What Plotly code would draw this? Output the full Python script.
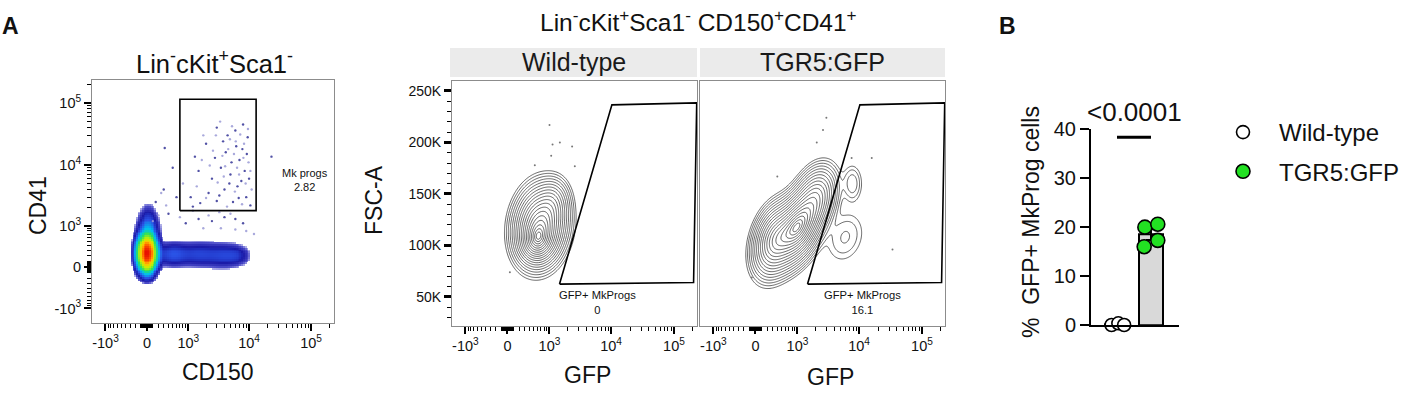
import numpy as np
import plotly.graph_objects as go

W, H = 1407, 409
FONT = "Liberation Sans, Arial, sans-serif"
COF = 450.0  # biexponential (arcsinh) cofactor used for the flow axes


def bx(v):
    return np.arcsinh(np.asarray(v, dtype=float) / COF)


def px(x):
    return x / W


def py(y):
    return 1 - y / H


# ---------------- Panel A left: Lin-cKit+Sca1- pseudocolor (CD150 vs CD41) -------------
lk_comp_cd150 = [0, 20, 500, 1500, 3800, 6500]
lk_comp_cd41 = [240, 800, 220, 220, 200, 200]
lk_comp_sd_u = [0.19, 0.21, 0.38, 0.42, 0.42, 0.28]
lk_comp_sd_v = [0.36, 0.46, 0.25, 0.26, 0.26, 0.21]
lk_comp_peak = [1.0, 0.06, 0.04, 0.03, 0.03, 0.017]

lk_event_cd150 = [1300, 2000, 3000, 4500, 6000, 8000, 9500, 7000, 3500, 2500, 5000, 8500,
                  6500, 4000, 2200, 1100, 1600, 3000, 5500, 9000, 10500, 1200, 7500, 4200,
                  6200, 9200, 1500, 3800, 5200, 7800, 2800, 10000, 4800, 6800, 3300,
                  320, 500, 300, 600, 150, 1500, 2500, 4000, 6000, 8000, 900, 400, 23000]
lk_event_cd41 = [13600, 22000, 40000, 30000, 36000, 45000, 28000, 12000, 9000, 6000, 7000, 8000,
                 4500, 4000, 3500, 3000, 2400, 2600, 2500, 3000, 2200, 2100, 5500, 16000,
                 20000, 15000, 8000, 24000, 11000, 18000, 13000, 6000, 5000, 2900, 3200,
                 18700, 9000, 4000, 3000, 2500, 1300, 1200, 1400, 1300, 1100, 1100, 1600, 13600]
lk_light_cd150 = [1800, 2600, 3400, 4100, 4900, 5700, 6400, 7200, 8300, 9800, 11000, 3100,
                  2300, 1400, 5900, 7700, 8800, 4400, 2000, 3700, 5300, 6900, 9600, 2900,
                  4600, 8100, 10500, 1700, 6100, 3900,
                  200, 700, 1200, 350, 2200, 3300, 5000, 250, 800, 100, 1800, 3500, 6000,
                  9000, 12000]
lk_light_cd41 = [30000, 17000, 50000, 9500, 26000, 15000, 9000, 31000, 22000, 11000, 4000, 5200,
                 9800, 4500, 3700, 2300, 5000, 2100, 2900, 14000, 42000, 7000, 38000, 30000,
                 18000, 13000, 8000, 12000, 24000, 6500,
                 1500, 1400, 1800, 2200, 1500, 1700, 1600, 3500, 5000, 1200, 900, 900, 850,
                 800, 700]

mk_gate_cd150 = [700, 13000]
mk_gate_cd41 = [1800, 115000]
mk_gate_label = "Mk progs<br>2.82"
mk_label_pos = (80000, 5700)

# ---------------- Panel A right: CD150+CD41+ contour (GFP vs FSC-A) ----------------------
wt_comp_gfp = [680, 600, 1100]
wt_comp_fsc = [119000, 104000, 140000]
wt_comp_sd_u = [0.41, 0.30, 0.28]
wt_comp_sd_f = [16500, 9500, 11000]
wt_comp_rho = [0.12, 0.05, 0.10]
wt_comp_peak = [1.0, 0.6, 0.15]

tg_comp_gfp = [1000, 350, 2000, 7800, 6000]
tg_comp_fsc = [118000, 105000, 146000, 160000, 108000]
tg_comp_sd_u = [0.44, 0.35, 0.34, 0.20, 0.40]
tg_comp_sd_f = [16500, 15000, 13500, 10000, 14000]
tg_comp_rho = [0.50, 0.30, 0.30, 0.0, 0.20]
tg_comp_peak = [1.0, 0.5, 0.3, 0.02, 0.015]

wt_event_gfp = [1000, 1130, 1500, 2380, 530, 1070, 40, 2630]
wt_event_fsc = [217000, 198000, 200000, 196000, 178000, 187000, 74000, 177000]
tg_event_gfp = [3000, 2650, 2100, 7600, 15900, 400, -60, 34000]
tg_event_fsc = [224000, 212000, 200000, 185000, 185000, 167000, 69000, 96000]

gfp_gate_gfp = [1480, 10300, 230000, 205000]
gfp_gate_fsc = [62500, 236500, 238500, 64000]
gfp_gate_labels = ["GFP+ MkProgs<br>0", "GFP+ MkProgs<br>16.1"]
gfp_label_gfp = [6000, 11500]
gfp_label_fsc = 44500

# flow axis ticks
bi_major = [-1000, 0, 1000, 10000, 100000]
bi_major_text = ["-10<sup>3</sup>", "0", "10<sup>3</sup>", "10<sup>4</sup>", "10<sup>5</sup>"]
bi_minor = ([-v for v in range(100, 1000, 100)] + [-v for v in range(10, 100, 10)]
            + list(range(10, 100, 10)) + list(range(100, 1000, 100))
            + list(range(2000, 10000, 1000)) + list(range(20000, 100000, 10000)) + [200000])
fsc_major = [50000, 100000, 150000, 200000, 250000]
fsc_major_text = ["50K", "100K", "150K", "200K", "250K"]

# ---------------- Panel B: bar chart --------------------------------------------------
groups = ["Wild-type", "TGR5:GFP"]
wt_values = [0.0, 0.35, 0.0]
tgr5_values = [20.0, 20.6, 17.3, 16.0]
wt_jitter = [-0.16, 0.04, 0.21]
tgr5_jitter = [-0.18, 0.20, 0.20, -0.20]
p_value_text = "<0.0001"
b_yticks = [0, 10, 20, 30, 40]

# ======================================================================================
fig = go.Figure()

# ---- pseudocolor density (heatmap of a density built from the read components) ----
X1_RANGE = [-2.04, 6.95]
Y1_RANGE = [-2.08, 6.95]
gu = np.linspace(X1_RANGE[0], X1_RANGE[1], 135)
gv = np.linspace(Y1_RANGE[0], Y1_RANGE[1], 135)
UU, VV = np.meshgrid(gu, gv)
dens = np.zeros_like(UU)
for cx, cy, su, sv, pk in zip(lk_comp_cd150, lk_comp_cd41, lk_comp_sd_u, lk_comp_sd_v, lk_comp_peak):
    dens += pk * np.exp(-0.5 * (((UU - bx(cx)) / su) ** 2 + ((VV - bx(cy)) / sv) ** 2))
logd = np.log10(np.maximum(dens, 1e-12))
LOWEST = -2.3
logd[logd < LOWEST] = np.nan
pseudo_scale = [
    [0.0, "#b0b0e8"], [0.10, "#4a4ac8"], [0.25, "#1a1aa8"], [0.40, "#2a52e6"],
    [0.55, "#00c0f0"], [0.68, "#28e060"], [0.80, "#c8f000"], [0.88, "#ffc000"],
    [0.94, "#ff6000"], [1.0, "#e81000"],
]
fig.add_trace(go.Heatmap(x=gu, y=gv, z=logd, zmin=LOWEST, zmax=0, colorscale=pseudo_scale,
                         showscale=False, hoverinfo="skip", xaxis="x", yaxis="y"))
fig.add_trace(go.Scatter(x=bx(lk_light_cd150), y=bx(lk_light_cd41), mode="markers",
                         marker=dict(size=2.4, color="#9a9ad6", opacity=0.85),
                         showlegend=False, hoverinfo="skip", xaxis="x", yaxis="y"))
fig.add_trace(go.Scatter(x=bx(lk_event_cd150), y=bx(lk_event_cd41), mode="markers",
                         marker=dict(size=2.4, color="#26268f", opacity=0.8),
                         showlegend=False, hoverinfo="skip", xaxis="x", yaxis="y"))
gx = bx([mk_gate_cd150[0], mk_gate_cd150[1], mk_gate_cd150[1], mk_gate_cd150[0], mk_gate_cd150[0]])
gy = bx([mk_gate_cd41[0], mk_gate_cd41[0], mk_gate_cd41[1], mk_gate_cd41[1], mk_gate_cd41[0]])
fig.add_trace(go.Scatter(x=gx, y=gy, mode="lines", line=dict(color="black", width=1.6),
                         showlegend=False, hoverinfo="skip", xaxis="x", yaxis="y"))

# ---- contour panels ----
X2_RANGE = [-2.03, 6.94]
Y2_RANGE = [21800, 259700]
cu = np.linspace(X2_RANGE[0], X2_RANGE[1], 260)
cf = np.linspace(Y2_RANGE[0], Y2_RANGE[1], 260)
CU, CF = np.meshgrid(cu, cf)


def mixture(gfp, fsc, sdu, sdf, rho, peak):
    d = np.zeros_like(CU)
    for g, f, su, sf, r, pk in zip(gfp, fsc, sdu, sdf, rho, peak):
        a = (CU - bx(g)) / su
        b = (CF - f) / sf
        q = (a * a - 2 * r * a * b + b * b) / (1 - r * r)
        d += pk * np.exp(-0.5 * q)
    return np.sqrt(np.log(d.max() / np.maximum(d, 1e-300)))


for (gfp, fsc, sdu, sdf, rho, pk, ev_g, ev_f, xa, ya) in [
    (wt_comp_gfp, wt_comp_fsc, wt_comp_sd_u, wt_comp_sd_f, wt_comp_rho, wt_comp_peak,
     wt_event_gfp, wt_event_fsc, "x2", "y2"),
    (tg_comp_gfp, tg_comp_fsc, tg_comp_sd_u, tg_comp_sd_f, tg_comp_rho, tg_comp_peak,
     tg_event_gfp, tg_event_fsc, "x3", "y3"),
]:
    z = mixture(gfp, fsc, sdu, sdf, rho, pk)
    fig.add_trace(go.Contour(x=cu, y=cf, z=z, showscale=False, hoverinfo="skip",
                             autocontour=False,
                             contours=dict(start=0.16, end=2.32, size=0.12, coloring="lines"),
                             colorscale=[[0, "#222"], [1, "#222"]],
                             line=dict(width=0.7), xaxis=xa, yaxis=ya))
    fig.add_trace(go.Scatter(x=bx(ev_g), y=ev_f, mode="markers",
                             marker=dict(size=2, color="#777"), showlegend=False,
                             hoverinfo="skip", xaxis=xa, yaxis=ya))
    fig.add_trace(go.Scatter(x=bx(gfp_gate_gfp + gfp_gate_gfp[:1]), y=gfp_gate_fsc + gfp_gate_fsc[:1],
                             mode="lines", line=dict(color="black", width=1.6), showlegend=False,
                             hoverinfo="skip", xaxis=xa, yaxis=ya))

# ---- panel B ----
means = [float(np.mean(wt_values)), float(np.mean(tgr5_values))]
sems = [float(np.std(wt_values, ddof=1) / np.sqrt(len(wt_values))),
        float(np.std(tgr5_values, ddof=1) / np.sqrt(len(tgr5_values)))]
fig.add_trace(go.Bar(x=[0, 1], y=means, width=0.7,
                     marker=dict(color="#d9d9d9", line=dict(color="black", width=2)),
                     error_y=dict(type="data", array=sems, visible=True, color="black",
                                  thickness=2, width=5),
                     showlegend=False, hoverinfo="skip", xaxis="x4", yaxis="y4"))
fig.add_trace(go.Scatter(x=[0 + j for j in wt_jitter], y=wt_values, mode="markers", name=groups[0],
                         marker=dict(size=13, color="white", line=dict(color="black", width=1.6)),
                         cliponaxis=False, legendgroup="a", xaxis="x4", yaxis="y4"))
fig.add_trace(go.Scatter(x=[1 + j for j in tgr5_jitter], y=tgr5_values, mode="markers", name=groups[1],
                         marker=dict(size=14, color="#22e022", line=dict(color="black", width=1.6)),
                         cliponaxis=False, legendgroup="b", xaxis="x4", yaxis="y4"))

# ---- axes ----
tickfont = dict(family=FONT, size=14.5, color="#111")


def flow_x(domain, anchor):
    return dict(domain=domain, anchor=anchor, range=X1_RANGE if anchor == "y" else X2_RANGE,
                tickmode="array", tickvals=list(bx(bi_major)), ticktext=bi_major_text,
                ticks="outside", ticklen=7, tickwidth=2, tickcolor="black",
                minor=dict(tickmode="array", tickvals=list(bx(bi_minor)), ticks="outside",
                           ticklen=4, tickwidth=1, tickcolor="black"),
                showline=True, mirror=True, linecolor="#8c8c8c", linewidth=1,
                showgrid=False, zeroline=False, tickfont=tickfont, automargin=False)


layout = dict(
    width=W, height=H, margin=dict(l=0, r=0, t=0, b=0, pad=0, autoexpand=False),
    paper_bgcolor="white", plot_bgcolor="white",
    font=dict(family=FONT, color="#111"),
    xaxis=flow_x([px(92), px(334)], "y"),
    yaxis=dict(domain=[py(323), py(80)], anchor="x", range=Y1_RANGE,
               tickmode="array", tickvals=list(bx(bi_major)), ticktext=bi_major_text,
               ticks="outside", ticklen=7, tickwidth=2, tickcolor="black",
               minor=dict(tickmode="array", tickvals=list(bx(bi_minor)), ticks="outside",
                          ticklen=4, tickwidth=1, tickcolor="black"),
               showline=True, mirror=True, linecolor="#8c8c8c", linewidth=1,
               showgrid=False, zeroline=False, tickfont=tickfont, automargin=False),
    xaxis2=flow_x([px(452), px(697)], "y2"),
    yaxis2=dict(domain=[py(326), py(81)], anchor="x2", range=Y2_RANGE,
                tickmode="array", tickvals=fsc_major, ticktext=fsc_major_text,
                ticks="outside", ticklen=7, tickwidth=2.5, tickcolor="black",
                minor=dict(tickmode="linear", tick0=0, dtick=10000, ticks="outside",
                           ticklen=4, tickwidth=1, tickcolor="black"),
                showline=True, mirror=True, linecolor="#8c8c8c", linewidth=1,
                showgrid=False, zeroline=False, automargin=False,
                tickfont=dict(family=FONT, size=14, color="#111")),
    xaxis3=flow_x([px(700), px(945)], "y3"),
    yaxis3=dict(domain=[py(326), py(81)], anchor="x3", range=Y2_RANGE, showticklabels=False,
                ticks="", showline=True, mirror=True, linecolor="#8c8c8c", linewidth=1,
                showgrid=False, zeroline=False, automargin=False),
    xaxis4=dict(domain=[px(1091), px(1179)], anchor="y4", range=[-0.765, 1.824],
                showticklabels=False, ticks="", showline=True, linecolor="black", linewidth=2,
                showgrid=False, zeroline=False, automargin=False),
    yaxis4=dict(domain=[py(325), py(129.3)], anchor="x4", range=[0, 40],
                tickmode="array", tickvals=b_yticks, ticks="outside", ticklen=9, tickwidth=2,
                tickcolor="black", showline=True, linecolor="black", linewidth=2,
                showgrid=False, zeroline=False, automargin=False,
                tickfont=dict(family=FONT, size=20, color="#111")),
    showlegend=True,
    legend=dict(x=px(1207), y=py(110), xanchor="left", yanchor="top",
                font=dict(family=FONT, size=24, color="#111"), bgcolor="rgba(0,0,0,0)",
                tracegroupgap=5, itemsizing="trace", itemwidth=62),
    bargap=0,
)
fig.update_layout(**layout)

# ---- strips, titles, labels ----
for x0, x1, label in [(450, 697, "Wild-type"), (700, 945, "TGR5:GFP")]:
    fig.add_shape(type="rect", xref="paper", yref="paper", x0=px(x0), x1=px(x1),
                  y0=py(77), y1=py(48), fillcolor="#ebebeb", line=dict(width=0), layer="below")
    fig.add_annotation(x=px((x0 + x1) / 2), y=py(62), xref="paper", yref="paper", text=label,
                       xanchor="center", yanchor="middle",
                       showarrow=False, font=dict(size=25, family=FONT, color="#1a1a1a"))

fig.add_shape(type="line", xref="x4", yref="y4", x0=0, x1=1, y0=38.4, y1=38.4,
              line=dict(color="black", width=3))
fig.add_annotation(x=px(1134), y=py(112), xref="paper", yref="paper", text=p_value_text,
                   xanchor="center", yanchor="middle",
                   showarrow=False, font=dict(size=26, family=FONT, color="#111"))

fig.add_annotation(x=bx(mk_label_pos[0]), y=bx(mk_label_pos[1]), xref="x", yref="y",
                   xanchor="center", yanchor="middle",
                   text=mk_gate_label, showarrow=False, font=dict(size=11, family=FONT, color="#111"))
for lab, gx_, xa, ya in zip(gfp_gate_labels, gfp_label_gfp, ["x2", "x3"], ["y2", "y3"]):
    fig.add_annotation(x=bx(gx_), y=gfp_label_fsc, xref=xa, yref=ya, text=lab, showarrow=False,
                       xanchor="center", yanchor="middle",
                       font=dict(size=11.2, family=FONT, color="#111"))

texts = [
    ("<b>A</b>", 10, 26, 23, 0),
    ("<b>B</b>", 1008, 26, 23, 0),
    ("Lin<sup>-</sup>cKit<sup>+</sup>Sca1<sup>-</sup>", 214, 62, 25.5, 0),
    ("Lin<sup>-</sup>cKit<sup>+</sup>Sca1<sup>-</sup> CD150<sup>+</sup>CD41<sup>+</sup>", 698, 20, 24.5, 0),
    ("CD41", 38, 206, 23, -90),
    ("CD150", 218, 372, 23, 0),
    ("FSC-A", 374, 200, 23, -90),
    ("GFP", 587, 375, 23, 0),
    ("GFP", 830, 377, 23, 0),
    ("%  GFP+ MkProg cells", 1031, 222, 23, -90),
]
for txt, x, y, size, ang in texts:
    fig.add_annotation(x=px(x), y=py(y), xref="paper", yref="paper", text=txt, showarrow=False,
                       xanchor="center", yanchor="middle",
                       textangle=ang, font=dict(size=size, family=FONT, color="#111"))

fig.write_html("out.html", config={"displayModeBar": False},
               post_script="document.body.style.margin='0';")
